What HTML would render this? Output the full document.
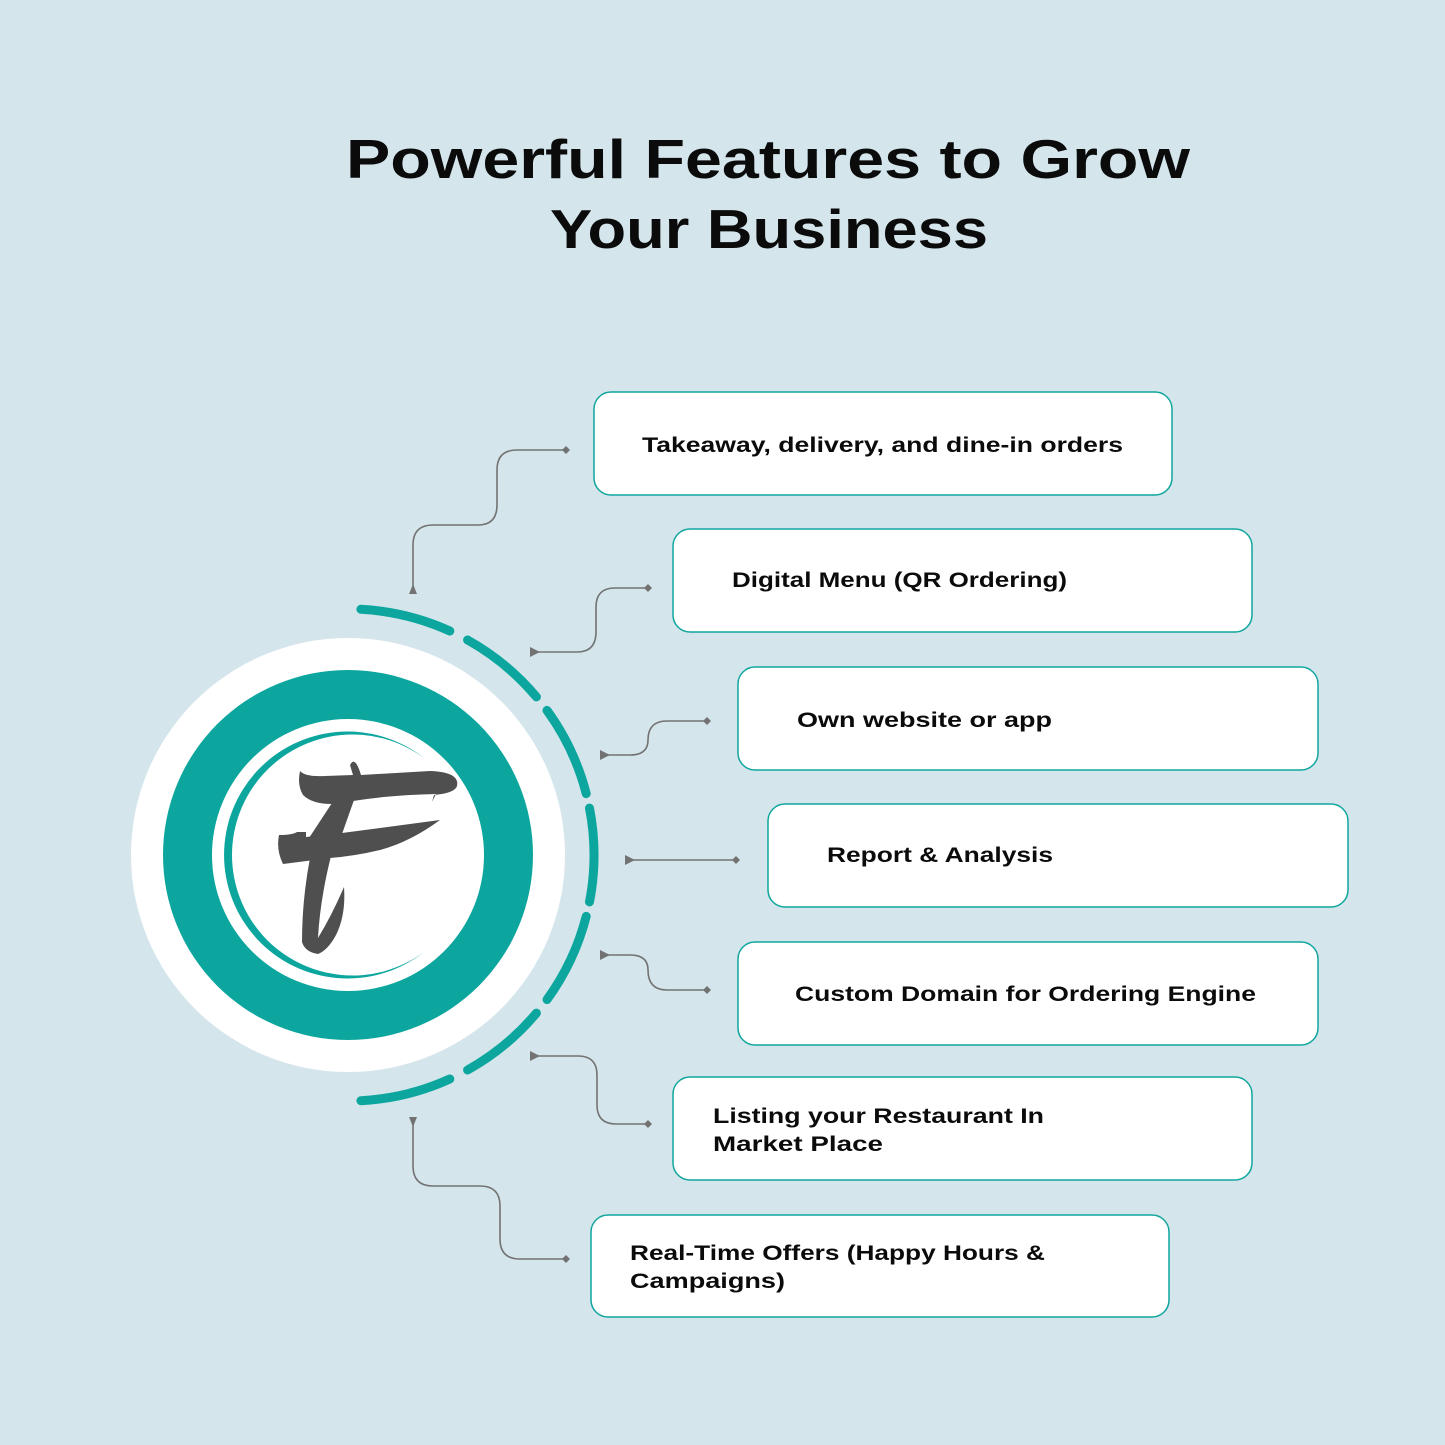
<!DOCTYPE html>
<html><head><meta charset="utf-8"><style>
html,body{margin:0;padding:0;background:#d4e6ec;}
svg{display:block}
text{font-family:"Liberation Sans",sans-serif;font-weight:bold;fill:#0b0b0b}
.t{font-size:21.5px}
.b{fill:#fff;stroke:#10a69d;stroke-width:1.5}
.c{fill:none;stroke:#727272;stroke-width:1.6}
.m{fill:#727272}
</style></head><body>
<svg width="1445" height="1445" viewBox="0 0 1445 1445" xmlns="http://www.w3.org/2000/svg">
<rect width="1445" height="1445" fill="#d4e6ec"/>
<text x="346" y="178" font-size="55" textLength="844" lengthAdjust="spacingAndGlyphs">Powerful Features to Grow</text>
<text x="550" y="248" font-size="55" textLength="438" lengthAdjust="spacingAndGlyphs">Your Business</text>

<rect class="b" x="594" y="392" width="578" height="103" rx="17"/>
<rect class="b" x="673" y="529" width="579" height="103" rx="17"/>
<rect class="b" x="738" y="667" width="580" height="103" rx="17"/>
<rect class="b" x="768" y="804" width="580" height="103" rx="17"/>
<rect class="b" x="738" y="942" width="580" height="103" rx="17"/>
<rect class="b" x="673" y="1077" width="579" height="103" rx="17"/>
<rect class="b" x="591" y="1215" width="578" height="102" rx="17"/>

<text class="t" x="642" y="452" textLength="481" lengthAdjust="spacingAndGlyphs">Takeaway, delivery, and dine-in orders</text>
<text class="t" x="732" y="587" textLength="335" lengthAdjust="spacingAndGlyphs">Digital Menu (QR Ordering)</text>
<text class="t" x="797" y="727" textLength="255" lengthAdjust="spacingAndGlyphs">Own website or app</text>
<text class="t" x="827" y="862" textLength="226" lengthAdjust="spacingAndGlyphs">Report &amp; Analysis</text>
<text class="t" x="795" y="1001" textLength="461" lengthAdjust="spacingAndGlyphs">Custom Domain for Ordering Engine</text>
<text class="t" x="713" y="1123" textLength="331" lengthAdjust="spacingAndGlyphs">Listing your Restaurant In</text>
<text class="t" x="713" y="1151" textLength="170" lengthAdjust="spacingAndGlyphs">Market Place</text>
<text class="t" x="630" y="1260" textLength="415" lengthAdjust="spacingAndGlyphs">Real-Time Offers (Happy Hours &amp;</text>
<text class="t" x="630" y="1288" textLength="155" lengthAdjust="spacingAndGlyphs">Campaigns)</text>

<path class="c" d="M413 588 V545 Q413 525 433 525 H478 Q497 525 497 505 V470 Q497 450 517 450 H566"/>
<polygon class="m" points="413,584 409,594 417,594"/>
<polygon class="m" points="566,446 570,450 566,454 562,450"/>

<path class="c" d="M532 652 H577 Q596 652 596 632 V607 Q596 588 615 588 H648"/>
<polygon class="m" points="530,647 540,652 530,657"/>
<polygon class="m" points="648,584 652,588 648,592 644,588"/>

<path class="c" d="M601 755 H630 Q648 755 648 740 Q648 721 667 721 H707"/>
<polygon class="m" points="600,750 610,755 600,760"/>
<polygon class="m" points="707,717 711,721 707,725 703,721"/>

<path class="c" d="M626 860 H736"/>
<polygon class="m" points="625,855 635,860 625,865"/>
<polygon class="m" points="736,856 740,860 736,864 732,860"/>

<path class="c" d="M601 955 H630 Q648 955 648 970 Q648 990 667 990 H707"/>
<polygon class="m" points="600,950 610,955 600,960"/>
<polygon class="m" points="707,986 711,990 707,994 703,990"/>

<path class="c" d="M532 1056 H578 Q597 1056 597 1075 V1105 Q597 1124 616 1124 H648"/>
<polygon class="m" points="530,1051 540,1056 530,1061"/>
<polygon class="m" points="648,1120 652,1124 648,1128 644,1124"/>

<path class="c" d="M413 1120 V1166 Q413 1186 433 1186 H480 Q500 1186 500 1206 V1239 Q500 1259 520 1259 H566"/>
<polygon class="m" points="409,1117 417,1117 413,1127"/>
<polygon class="m" points="566,1255 570,1259 566,1263 562,1259"/>

<circle cx="348" cy="855" r="217" fill="#fff"/>
<circle cx="348" cy="855" r="185" fill="#0ca69e"/>
<circle cx="348" cy="855" r="136" fill="#fff"/>
<g fill="none" stroke="#0ca69e" stroke-width="9" stroke-linecap="round" transform="translate(348 855)">
<path d="M12.9 -245.7 A246 246 0 0 1 101.8 -224"/>
<path d="M119.6 -215 A246 246 0 0 1 188.4 -158.1"/>
<path d="M199 -144.6 A246 246 0 0 1 238.2 -61.4"/>
<path d="M241.5 -46.9 A246 246 0 0 1 241.5 46.9"/>
<path d="M238.2 61.4 A246 246 0 0 1 199 144.6"/>
<path d="M188.4 158.1 A246 246 0 0 1 119.6 215"/>
<path d="M101.8 224 A246 246 0 0 1 12.9 245.7"/>
</g>
<path d="M424 758 A123.5 123.5 0 1 0 424 952 A120.5 120.5 0 1 1 424 758 Z" fill="#0ca69e"/>
<g fill="#4f4f4f">
<path d="M300 771 Q305 777 325 776 L353 775 L350 765 Q355 755 361 775 L430 771 Q460 772 457 786 Q455 793 434 795 L432 802 L436 794 Q390 795 353 801 L332 804 Q312 804 303 795 Q297 785 300 771 Z"/>
<path d="M332 803 L354 800 L342 834 L309 838 Z"/>
<path d="M279 835 Q292 835 297 832 L306 832 L306 837 L342 833 L440 820 Q410 842 380 850 Q355 856 330 858 L283 864 Q276 850 279 835 Z"/>
<path d="M310 858 L331 856 Q320 900 318 938 Q332 915 344 887 Q346 915 336 935 Q328 950 318 954 Q305 952 302 942 Q302 900 310 858 Z"/>
</g>
</svg>
</body></html>
